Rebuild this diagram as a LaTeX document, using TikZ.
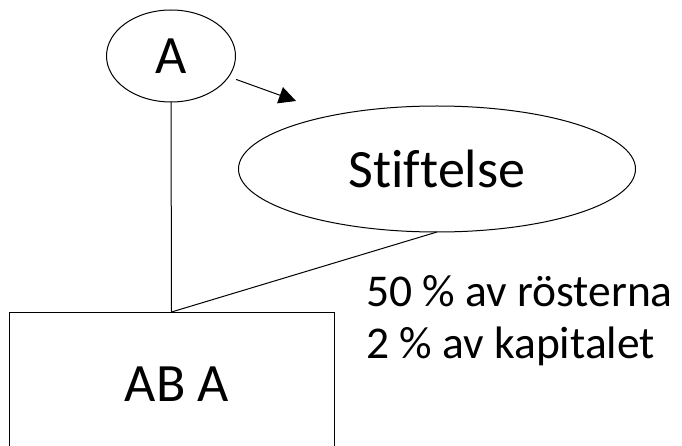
\documentclass[tikz,border=0pt]{standalone}
\usepackage{fontspec}
\setmainfont[Ligatures=NoCommon]{Carlito}
\usetikzlibrary{shapes.geometric,arrows.meta}
\tikzset{
  oval/.style={ellipse, draw, line width=1pt, inner sep=0pt, outer sep=0pt, font=\fontsize{54}{60}\selectfont},
  boxnode/.style={rectangle, draw, line width=1pt, inner sep=0pt, outer sep=0pt, font=\fontsize{54}{60}\selectfont},
  conn/.style={line width=1pt},
  lbl/.style={font=\fontsize{45.5}{52}\selectfont, inner sep=0pt, anchor=base west}
}
\begin{document}
\begin{tikzpicture}[x=1pt,y=-1pt]
\useasboundingbox (0,0) rectangle (682,446);
\clip (0,0) rectangle (682,446);
\node[oval, minimum width=129pt, minimum height=92pt] (A) at (171,56) {A};
\node[oval, minimum width=397pt, minimum height=126pt] (S) at (437,169) {Stiftelse};
\node[boxnode, minimum width=325pt, minimum height=200pt, anchor=north] (B) at (171.5,312) {};
\node[font=\fontsize{54}{60}\selectfont, inner sep=0pt] (BT) at (177,384) {AB A};
\coordinate (arrE) at (296,101);
\draw[conn, shorten <=8pt, -{Triangle[length=17pt,width=17pt]}] (A) -- (arrE);
\draw[conn] (A.south) -- (B.north);
\draw[conn] (S.south) -- (B.north);
\node[lbl] (T1) at (366,306) {50 \% av rösterna};
\node[lbl] (T2) at (366,358) {2 \% av kapitalet};
\end{tikzpicture}
\end{document}
